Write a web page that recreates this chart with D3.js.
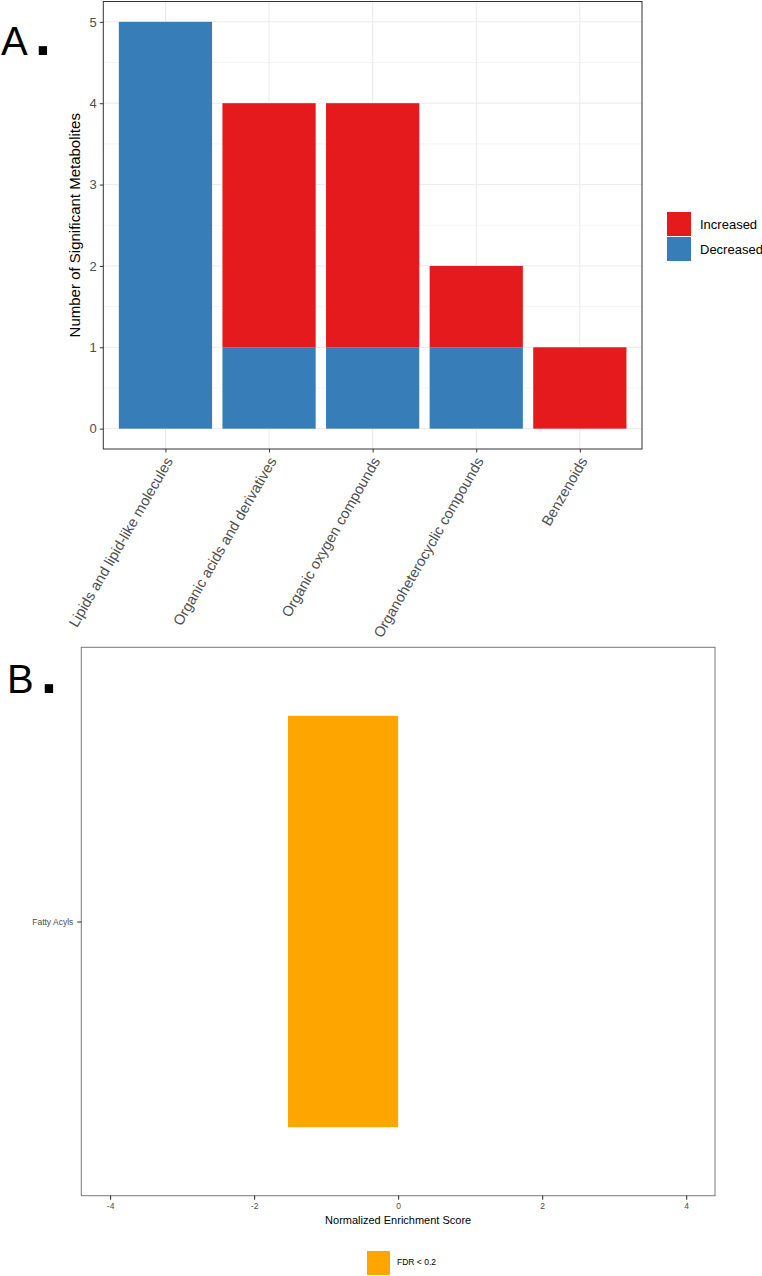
<!DOCTYPE html>
<html>
    <head>
        <meta charset="utf-8">
        <title>Significant metabolites and enrichment</title>
        <style>
            body { margin: 0; background: white; }
            svg { display: block; font-family: "Liberation Sans", Arial, sans-serif; }
            .grid-major { stroke: #ebebeb; stroke-width: 1; }
            .grid-minor { stroke: #ebebeb; stroke-width: 0.5; }
            .tick-label { fill: #4d4d4d; }
        </style>
    </head>
    <body>
        <svg width="762" height="1276"></svg>

        <script src="https://cdnjs.cloudflare.com/ajax/libs/d3/7.8.5/d3.min.js"></script>
        <script>
            // panel A data: counts of significant metabolites per class
            const categories = [
                'Lipids and lipid-like molecules',
                'Organic acids and derivatives',
                'Organic oxygen compounds',
                'Organoheterocyclic compounds',
                'Benzenoids'
            ];
            const decreased = [5, 1, 1, 1, 0];
            const increased = [0, 3, 3, 1, 1];
            const directions = ['Increased', 'Decreased'];
            const countTicks = [0, 1, 2, 3, 4, 5];

            // panel B data: enrichment
            const pathways = ['Fatty Acyls'];
            const nes = [-1.53];
            const nesTicks = [-4, -2, 0, 2, 4];
            const fdrLabels = ['FDR < 0.2'];

            const colour = { Increased: '#E41A1C', Decreased: '#377EB8' };

            let svg = d3.select('svg');

            // panel letter: big letter plus a heavy square period
            function panelLabel(letter, x0, y0) {
                let t = svg.append('text')
                    .attr('x', x0).attr('y', y0)
                    .style('font-size', '40px');
                t.append('tspan').text(letter);
                t.append('tspan')
                    .attr('dx', 7)
                    .style('font-size', '59px')
                    .style('font-weight', 'bold')
                    .text('.');
            }

            // ---------------- panel A ----------------
            let A = { left: 103.3, right: 642, top: 1.5, bottom: 449 };

            let x = d3.scalePoint()
                .domain(categories)
                .range([A.left, A.right])
                .padding(0.6);

            let y = d3.scaleLinear()
                .domain([-0.25, 5.25])
                .range([A.bottom, A.top]);

            let gA = svg.append('g');

            // minor + major grid
            gA.selectAll('.grid-minor')
                .data(d3.range(0.5, 5, 1))
                .join('line')
                .attr('class', 'grid-minor')
                .attr('x1', A.left).attr('x2', A.right)
                .attr('y1', d => y(d)).attr('y2', d => y(d));
            gA.selectAll('.gy')
                .data(countTicks)
                .join('line')
                .attr('class', 'grid-major gy')
                .attr('x1', A.left).attr('x2', A.right)
                .attr('y1', d => y(d)).attr('y2', d => y(d));
            gA.selectAll('.gx')
                .data(categories)
                .join('line')
                .attr('class', 'grid-major gx')
                .attr('x1', d => x(d)).attr('x2', d => x(d))
                .attr('y1', A.top).attr('y2', A.bottom);

            // stacked bars, Decreased at the bottom
            let rows = categories.map((c, i) => ({ cat: c, Decreased: decreased[i], Increased: increased[i] }));
            let series = d3.stack().keys(['Decreased', 'Increased'])(rows);
            let barW = x.step() * 0.9;

            gA.selectAll('.layer')
                .data(series)
                .join('g')
                .attr('fill', d => colour[d.key])
                .selectAll('rect')
                .data(d => d.filter(s => s[1] > s[0]))
                .join('rect')
                .attr('x', d => x(d.data.cat) - barW / 2)
                .attr('width', barW)
                .attr('y', d => y(d[1]))
                .attr('height', d => y(d[0]) - y(d[1]));

            // panel border
            gA.append('rect')
                .attr('x', A.left).attr('y', A.top)
                .attr('width', A.right - A.left).attr('height', A.bottom - A.top)
                .attr('fill', 'none').attr('stroke', '#333333').attr('stroke-width', 1);

            // y axis
            let yAxisA = gA.append('g')
                .attr('transform', `translate(${A.left},0)`)
                .call(d3.axisLeft(y).tickValues(countTicks).tickFormat(d3.format('d')).tickSize(3.5).tickPadding(3));
            yAxisA.select('.domain').remove();
            yAxisA.selectAll('line').attr('stroke', '#333333');
            yAxisA.selectAll('text').attr('class', 'tick-label').style('font-size', '13px');

            // x axis
            let xAxisA = gA.append('g')
                .attr('transform', `translate(0,${A.bottom})`)
                .call(d3.axisBottom(x).tickSize(3.5).tickFormat(''));
            xAxisA.select('.domain').remove();
            xAxisA.selectAll('line').attr('stroke', '#333333');

            gA.selectAll('.xlab')
                .data(categories)
                .join('text')
                .attr('class', 'tick-label xlab')
                .attr('text-anchor', 'end')
                .attr('transform', d => `translate(${x(d) + 8},${A.bottom + 12}) rotate(-60)`)
                .style('font-size', '14.6px')
                .text(d => d);

            gA.append('text')
                .attr('transform', `translate(80,${(A.top + A.bottom) / 2}) rotate(-90)`)
                .attr('text-anchor', 'middle')
                .style('font-size', '15px')
                .text('Number of Significant Metabolites');

            // legend
            let legA = gA.append('g').attr('transform', 'translate(667,212)');
            legA.selectAll('rect')
                .data(directions)
                .join('rect')
                .attr('x', 0).attr('y', (d, i) => i * 25)
                .attr('width', 24).attr('height', 24)
                .attr('fill', d => colour[d]);
            legA.selectAll('text')
                .data(directions)
                .join('text')
                .attr('x', 33).attr('y', (d, i) => i * 25 + 12)
                .attr('dy', '0.35em')
                .style('font-size', '13px')
                .text(d => d);

            panelLabel('A', 1, 55);

            // ---------------- panel B ----------------
            let B = { left: 81.3, right: 715, top: 647.3, bottom: 1195.7 };

            let xb = d3.scaleLinear()
                .domain([-4.4, 4.4])
                .range([B.left, B.right]);

            let yb = d3.scalePoint()
                .domain(pathways)
                .range([B.top, B.bottom])
                .padding(0.6);

            let gB = svg.append('g');
            let barH = yb.step() * 0.9;

            gB.selectAll('rect.nes')
                .data(pathways)
                .join('rect')
                .attr('class', 'nes')
                .attr('x', (d, i) => xb(Math.min(0, nes[i])))
                .attr('width', (d, i) => Math.abs(xb(nes[i]) - xb(0)))
                .attr('y', d => yb(d) - barH / 2)
                .attr('height', barH)
                .attr('fill', '#FFA500');

            gB.append('rect')
                .attr('x', B.left).attr('y', B.top)
                .attr('width', B.right - B.left).attr('height', B.bottom - B.top)
                .attr('fill', 'none').attr('stroke', '#777777').attr('stroke-width', 1);

            let xAxisB = gB.append('g')
                .attr('transform', `translate(0,${B.bottom})`)
                .call(d3.axisBottom(xb).tickValues(nesTicks).tickFormat(d => String(d)).tickSize(4).tickPadding(3));
            xAxisB.select('.domain').remove();
            xAxisB.selectAll('line').attr('stroke', '#222');
            xAxisB.selectAll('text').attr('class', 'tick-label').style('font-size', '8.5px');

            let yAxisB = gB.append('g')
                .attr('transform', `translate(${B.left},0)`)
                .call(d3.axisLeft(yb).tickSize(4).tickPadding(4));
            yAxisB.select('.domain').remove();
            yAxisB.selectAll('line').attr('stroke', '#222');
            yAxisB.selectAll('text').attr('class', 'tick-label').style('font-size', '8.5px');

            gB.append('text')
                .attr('x', (B.left + B.right) / 2).attr('y', 1220)
                .attr('dy', '0.35em')
                .attr('text-anchor', 'middle')
                .style('font-size', '11px')
                .text('Normalized Enrichment Score');

            let legB = gB.append('g').attr('transform', 'translate(367,1251)');
            legB.selectAll('rect')
                .data(fdrLabels)
                .join('rect')
                .attr('width', 23).attr('height', 24)
                .attr('fill', '#FFA500');
            legB.selectAll('text')
                .data(fdrLabels)
                .join('text')
                .attr('x', 30).attr('y', 11)
                .attr('dy', '0.35em')
                .style('font-size', '8.5px')
                .text(d => d);

            panelLabel('B', 7, 693);
        </script>
    </body>
</html>
